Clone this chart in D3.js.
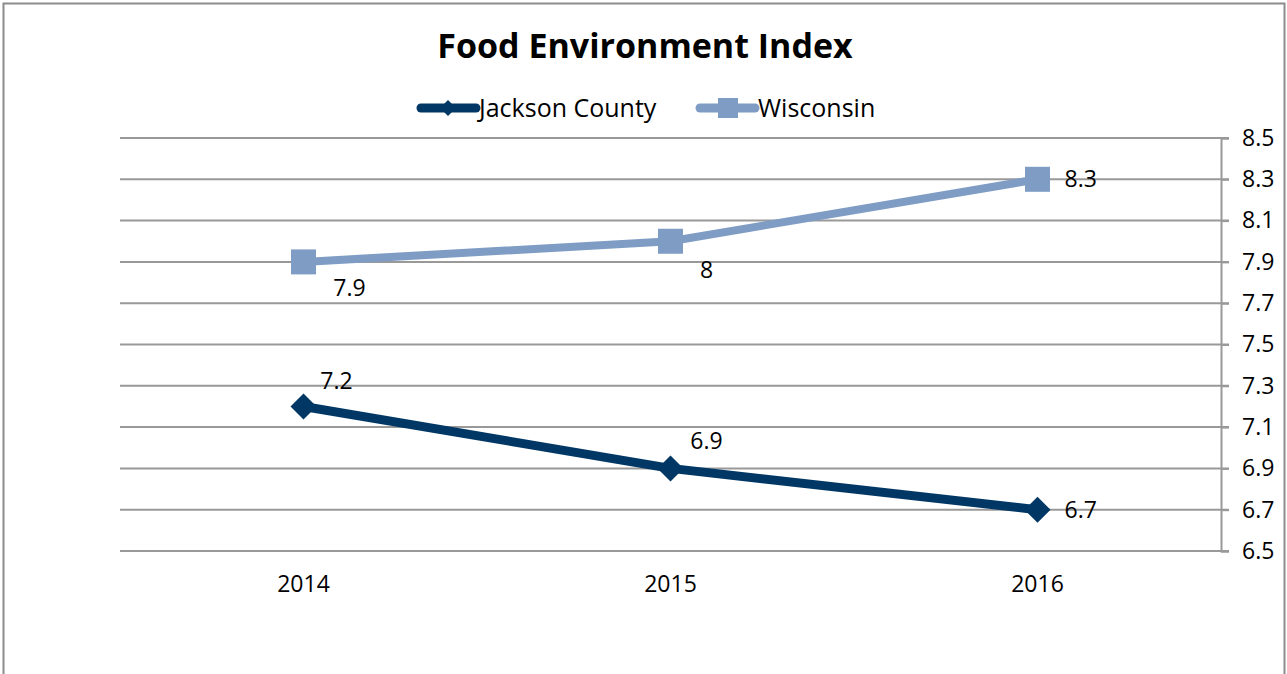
<!DOCTYPE html>
<html><head><meta charset="utf-8">
<script src="https://cdn.jsdelivr.net/npm/d3@7"></script>
<style>body{margin:0;background:#fff}svg{display:block}text{font-family:"Open Sans",Lato,sans-serif}</style>
</head><body>
<svg id="c" width="1287" height="674"></svg>
<script>
const categories = ["2014","2015","2016"];
const jackson = [7.2, 6.9, 6.7];
const wisconsin = [7.9, 8.0, 8.3];
const yTicks = [6.5,6.7,6.9,7.1,7.3,7.5,7.7,7.9,8.1,8.3,8.5];
const seriesNames = ["Jackson County","Wisconsin"];

const svg = d3.select("#c");
const L=120, R=1221, T=138, B=551;
const x = d3.scalePoint().domain(categories).range([L,R]).padding(0.5);
const y = d3.scaleLinear().domain([6.5,8.5]).range([B,T]);
const FF = '"Open Sans",Lato,sans-serif';

svg.append("rect").attr("x",3.5).attr("y",3.5).attr("width",1281).attr("height",700)
  .attr("fill","#fff").attr("stroke","#8c8c8c").attr("stroke-width",2);

svg.append("text").attr("x",645).attr("y",58).attr("text-anchor","middle")
  .attr("font-size",34).attr("font-weight","bold").attr("fill","#000").text("Food Environment Index");

// gridlines
svg.append("g").selectAll("line").data(yTicks).join("line")
  .attr("x1",L).attr("x2",R+8).attr("y1",d=>y(d)).attr("y2",d=>y(d))
  .attr("stroke","#999").attr("stroke-width",2);
// right axis
const ax = svg.append("g").attr("transform",`translate(${R},0)`)
  .call(d3.axisRight(y).tickValues(yTicks).tickFormat(d3.format(".1f")).tickSize(8).tickPadding(13));
ax.select(".domain").attr("stroke","#999").attr("stroke-width",2);
ax.selectAll(".tick line").attr("stroke","#999").attr("stroke-width",2);
ax.selectAll("text").attr("font-size",23).attr("fill","#000").style("font-family",FF);

// x labels
svg.append("g").selectAll("text").data(categories).join("text")
  .attr("x",d=>x(d)).attr("y",592).attr("text-anchor","middle")
  .attr("font-size",23).attr("fill","#000").text(d=>d);

const line = d3.line().x((d,i)=>x(categories[i])).y(d=>y(d));
const cJ="#003764", cW="#7f9dc4";
svg.append("path").datum(wisconsin).attr("d",line).attr("fill","none").attr("stroke",cW).attr("stroke-width",8).attr("stroke-linejoin","round");
svg.append("path").datum(jackson).attr("d",line).attr("fill","none").attr("stroke",cJ).attr("stroke-width",9).attr("stroke-linejoin","round");

const diamond = s=>`M0,${-s}L${s},0L0,${s}L${-s},0Z`;
svg.append("g").selectAll("rect").data(wisconsin).join("rect")
  .attr("x",(d,i)=>x(categories[i])-12.5).attr("y",d=>y(d)-12.5).attr("width",25).attr("height",25)
  .attr("fill",cW);
svg.append("g").selectAll("path").data(jackson).join("path")
  .attr("transform",(d,i)=>`translate(${x(categories[i])},${y(d)})`).attr("d",diamond(13)).attr("fill",cJ);

// data labels
const fmt = d=>d3.format("")(d);
const wOff=[[46,34],[36,37],[27,8]], jOff=[[33,-17],[36,-19],[27,8]];
svg.append("g").selectAll("text").data(wisconsin).join("text")
  .attr("x",(d,i)=>x(categories[i])+wOff[i][0]).attr("y",(d,i)=>y(d)+wOff[i][1])
  .attr("text-anchor",(d,i)=>i==2?"start":"middle").attr("font-size",23).attr("fill","#000").text(fmt);
svg.append("g").selectAll("text").data(jackson).join("text")
  .attr("x",(d,i)=>x(categories[i])+jOff[i][0]).attr("y",(d,i)=>y(d)+jOff[i][1])
  .attr("text-anchor",(d,i)=>i==2?"start":"middle").attr("font-size",23).attr("fill","#000").text(fmt);

// legend
const lg = svg.append("g");
const items=[{n:seriesNames[0],c:cJ,x:418,t:"d"},{n:seriesNames[1],c:cW,x:697,t:"s"}];
items.forEach(it=>{
  lg.append("line").attr("x1",it.x+3).attr("x2",it.x+58).attr("y1",108).attr("y2",108)
    .attr("stroke",it.c).attr("stroke-width",9).attr("stroke-linecap","round");
  if(it.t=="d") lg.append("path").attr("transform",`translate(${it.x+30},108)`).attr("d",diamond(8)).attr("fill",it.c);
  else lg.append("rect").attr("x",it.x+21).attr("y",98).attr("width",20).attr("height",20).attr("fill",it.c);
  lg.append("text").attr("x",it.x+61).attr("y",117).attr("font-size",25).attr("fill","#000").text(it.n);
});
</script>
</body></html>
